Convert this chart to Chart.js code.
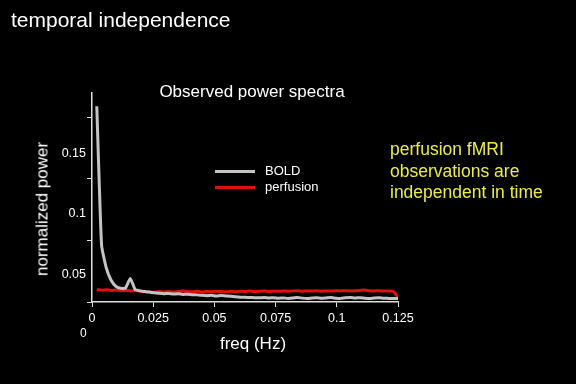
<!DOCTYPE html>
<html><head><meta charset="utf-8">
<script src="https://cdn.jsdelivr.net/npm/chart.js@4"></script>
<style>
html,body{margin:0;padding:0;background:#000;}
#wrap{position:relative;width:576px;height:384px;overflow:hidden;background:#000;font-family:"Liberation Sans",Arial,sans-serif;}
canvas{position:absolute;left:0;top:0;}
.t{position:absolute;white-space:nowrap;color:#fff;}
.c{position:absolute;white-space:nowrap;color:#fff;transform:translate(-50%,-50%);line-height:1;}
.sw{position:absolute;height:3px;}
</style></head><body>
<div id="wrap">
<canvas id="c" width="576" height="384"></canvas>
<div class="t" style="left:11px;top:8px;font-size:21px;">temporal independence</div>
<div class="c" style="left:252px;top:91px;font-size:17px;">Observed power spectra</div>
<div class="t" style="left:390px;top:139px;font-size:17.5px;line-height:21.5px;color:#ecec48;">perfusion fMRI<br>observations are<br>independent in time</div>
<div class="sw" style="left:215px;top:170px;width:40px;background:#c4c4c4;"></div>
<div class="sw" style="left:215px;top:186px;width:40px;background:#e01010;"></div>
<div class="t" style="left:265px;top:163px;font-size:13px;">BOLD</div>
<div class="t" style="left:265px;top:179px;font-size:13px;">perfusion</div>
<div class="t" style="left:80px;top:326px;font-size:12px;">0</div>
<div class="c" style="left:253px;top:343px;font-size:17px;">freq (Hz)</div>
<div class="c" style="left:42px;top:209px;font-size:17px;transform:translate(-50%,-50%) rotate(-90deg);">normalized power</div>
</div>
<script>
const freqs = [0.00195,0.00391,0.00586,0.00781,0.00977,0.01172,0.01367,0.01563,0.01758,0.01953,
0.02148,0.02344,0.02539,0.02734,0.0293,0.03125,0.0332,0.03516,0.03711,0.03906,
0.04102,0.04297,0.04492,0.04688,0.04883,0.05078,0.05273,0.05469,0.05664,0.05859,
0.06055,0.0625,0.06445,0.06641,0.06836,0.07031,0.07227,0.07422,0.07617,0.07813,
0.08008,0.08203,0.08398,0.08594,0.08789,0.08984,0.0918,0.09375,0.0957,0.09766,
0.09961,0.10156,0.10352,0.10547,0.10742,0.10938,0.11133,0.11328,0.11523,0.11719,
0.11914,0.12109,0.12305,0.125];
const boldPower = [0.189,0.074,0.055,0.045,0.040,0.0383,0.0385,0.0465,0.0375,0.0362,
0.0356,0.0352,0.0347,0.0342,0.0338,0.0341,0.0336,0.0338,0.0333,0.0335,
0.0330,0.0329,0.0325,0.0322,0.0325,0.0319,0.0323,0.0320,0.0318,0.0313,
0.0310,0.0309,0.0307,0.0306,0.0305,0.0307,0.0304,0.0305,0.0302,0.0304,
0.0300,0.0303,0.0308,0.0302,0.0299,0.0303,0.0306,0.0301,0.0304,0.0307,
0.0302,0.0300,0.0305,0.0308,0.0303,0.0306,0.0302,0.0299,0.0303,0.0306,
0.0301,0.0300,0.0299,0.0298];
const perfusionPower = [0.0373,0.0368,0.0371,0.0366,0.0369,0.0364,0.0367,0.0362,0.0366,0.0360,
0.0357,0.0354,0.0351,0.0356,0.0352,0.0357,0.0351,0.0356,0.0361,0.0356,
0.0354,0.0359,0.0353,0.0358,0.0355,0.0360,0.0356,0.0354,0.0358,0.0355,
0.0359,0.0357,0.0361,0.0356,0.0359,0.0362,0.0357,0.0360,0.0358,0.0362,
0.0359,0.0361,0.0363,0.0360,0.0362,0.0361,0.0363,0.0360,0.0362,0.0361,
0.0363,0.0362,0.0364,0.0361,0.0363,0.0365,0.0369,0.0364,0.0362,0.0363,
0.0361,0.0362,0.0358,0.0312];
const xTickValues = [0,0.025,0.05,0.075,0.1,0.125];
const xTickLabels = ['0','0.025','0.05','0.075','0.1','0.125'];
const yLabelValues = [0.05,0.1,0.15];
const yLabelTexts = ['0.05','0.1','0.15'];
const yMarkValues = [0.027,0.078,0.129,0.18];
const yMin = 0.027, yMax = 0.2;

const toPts = (xs, ys) => xs.map((x,i)=>({x:x,y:ys[i]}));
const axisCol = '#e0e0e0';
const font12 = {family:'"Liberation Sans", Arial, sans-serif', size:12.5};

new Chart(document.getElementById('c'), {
  type:'line',
  data:{datasets:[
    {label:'BOLD', data:toPts(freqs,boldPower), borderColor:'#c4c4c4', borderWidth:3, pointRadius:0, tension:0.15, fill:false},
    {label:'perfusion', data:toPts(freqs,perfusionPower), borderColor:'#e01010', borderWidth:3, pointRadius:0, tension:0.15, fill:false}
  ]},
  options:{
    responsive:false, animation:false, devicePixelRatio:1,
    layout:{padding:{left:0,right:178,top:93,bottom:0}},
    plugins:{legend:{display:false}, tooltip:{enabled:false}},
    scales:{
      x:{type:'linear', min:0, max:0.125,
        afterFit:s=>{s.height=82;},
        afterBuildTicks:s=>{s.ticks=xTickValues.map(v=>({value:v}));},
        ticks:{color:'#fff', font:font12, padding:4, maxRotation:0, autoSkip:false,
          callback:(v)=>{const i=xTickValues.indexOf(v);return i>=0?xTickLabels[i]:'';}},
        grid:{drawOnChartArea:false, drawTicks:true, tickLength:5, color:axisCol},
        border:{display:true, color:axisCol, width:1.5}
      },
      y:{type:'linear', min:yMin, max:yMax,
        afterFit:s=>{s.width=92;},
        afterBuildTicks:s=>{s.ticks=yMarkValues.concat(yLabelValues).sort((a,b)=>a-b).map(v=>({value:v}));},
        ticks:{color:'#fff', font:font12, padding:1, autoSkip:false,
          callback:(v)=>{const i=yLabelValues.indexOf(v);return i>=0?yLabelTexts[i]:'';}},
        grid:{drawOnChartArea:false, drawTicks:true, tickLength:5,
          color:(ctx)=> (ctx.tick && yLabelValues.indexOf(ctx.tick.value)>=0) ? 'rgba(0,0,0,0)' : axisCol},
        border:{display:true, color:axisCol, width:1.5}
      }
    }
  }
});
</script>
</body></html>
